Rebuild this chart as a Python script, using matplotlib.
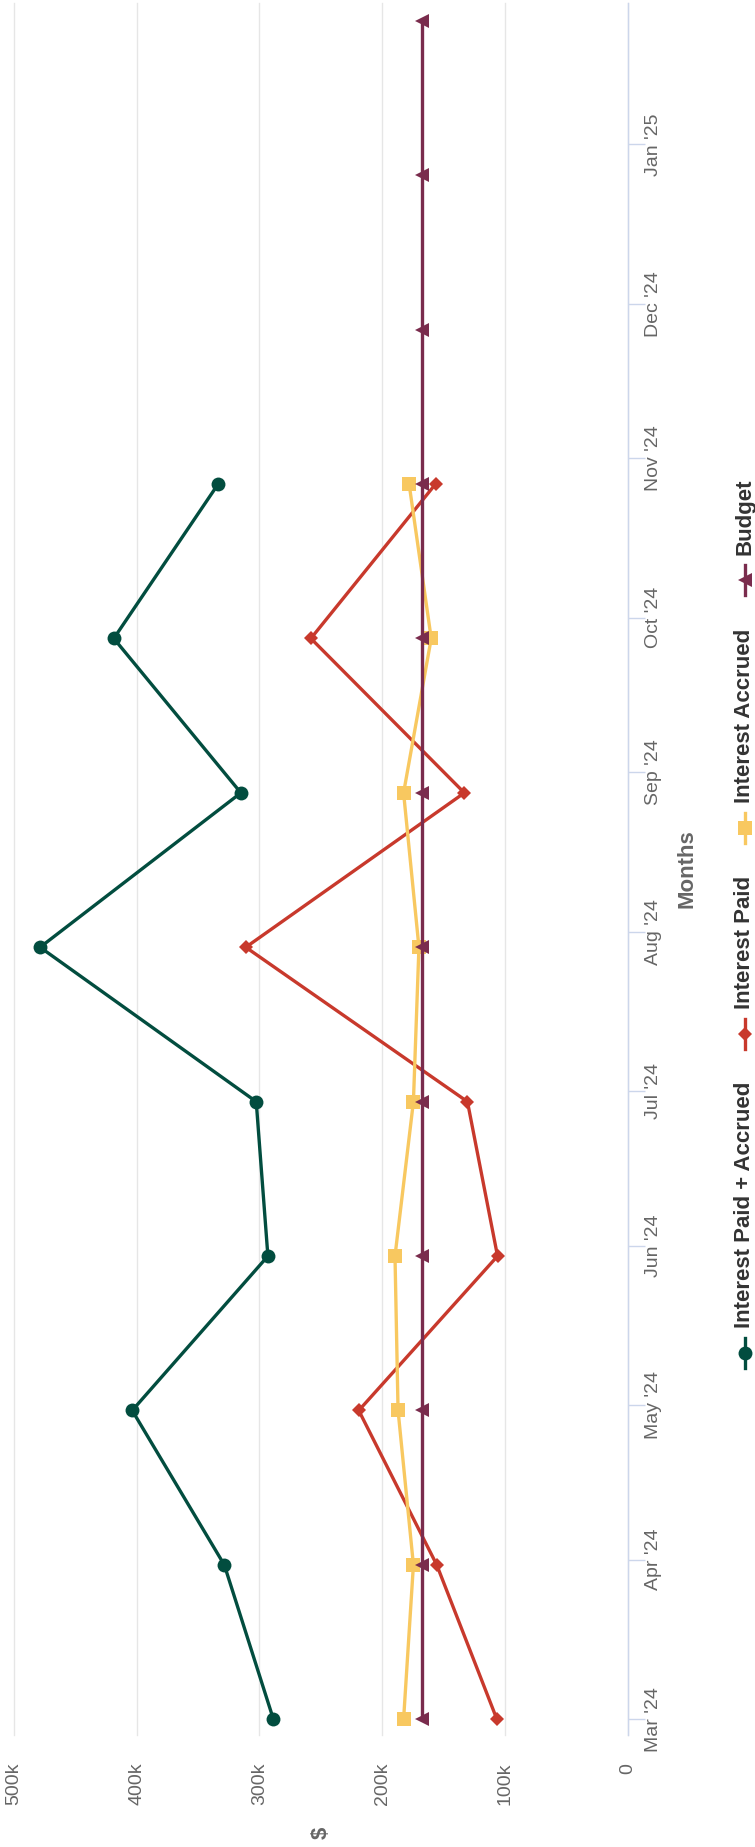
import datetime as dt

import matplotlib
matplotlib.use("Agg")
import matplotlib.pyplot as plt
import matplotlib.dates as mdates
from matplotlib.lines import Line2D
from matplotlib.ticker import FuncFormatter, MultipleLocator

plt.rcParams['font.family'] = ['Liberation Sans', 'DejaVu Sans']

# points are 30 days apart starting 1 Mar 2024
dates = ["2024-03-01", "2024-03-31", "2024-04-30", "2024-05-30", "2024-06-29",
         "2024-07-29", "2024-08-28", "2024-09-27", "2024-10-27", "2024-11-26",
         "2024-12-26", "2025-01-25"]

# values in $
paid_accrued = [288500, 328500, 403500, 293000, 302500, 478500, 315000, 418500, 333500]
interest_paid = [106500, 155500, 219000, 106000, 130500, 311000, 133000, 258000, 156500]
interest_accrued = [182500, 174500, 187000, 189500, 174500, 170000, 182500, 160000, 178000]
budget = [167500, 167500, 167500, 167500, 167500, 167500,
          167500, 167500, 167500, 167500, 167500, 167500]

series = [
    ("Interest Paid + Accrued", paid_accrued, "#024d3f", "o", 10),
    ("Interest Paid", interest_paid, "#c8392c", "D", 7.2),
    ("Interest Accrued", interest_accrued, "#f8c860", "s", 10),
    ("Budget", budget, "#7a2c4d", "<", 10),
]

W, H = 755, 1847
fig = plt.figure(figsize=(W / 100, H / 100), dpi=100)
ax = fig.add_axes([13.7 / W, 1 - 1735 / H, (627.7 - 13.7) / W, (1735 - 3.3) / H])

ydates = mdates.date2num([dt.date.fromisoformat(d) for d in dates])
for name, vals, color, marker, ms in series:
    ax.plot(vals, ydates[:len(vals)], color=color, lw=2.4, marker=marker,
            ms=ms, mew=0, solid_joinstyle='round')

# value axis runs right to left, chart is turned on its side
ax.set_xlim(500000, 0)
start = mdates.date2num(dt.date(2024, 3, 1))
ax.set_ylim(start - 3.05, start + 333.4)

ax.xaxis.set_major_locator(MultipleLocator(100000))
ax.xaxis.set_major_formatter(FuncFormatter(lambda v, p: "0" if v == 0 else f"{v / 1000:.0f}k"))
ax.yaxis.set_major_locator(mdates.MonthLocator())
ax.yaxis.set_major_formatter(mdates.DateFormatter("%b '%y"))
ax.yaxis.tick_right()

ax.grid(axis='x', color='#e6e6e6', lw=1.0)
ax.set_axisbelow(True)
for gl in ax.get_xgridlines():
    gl.set_clip_on(False)
for side in ['left', 'top', 'bottom']:
    ax.spines[side].set_visible(False)
ax.spines['right'].set_color('#ccd6eb')
ax.spines['right'].set_linewidth(1.0)

ax.tick_params(axis='x', length=0, pad=20, labelsize=14, labelcolor='#666666')
ax.tick_params(axis='y', direction='out', length=12.2, width=1.0, color='#ccd6eb',
               pad=0, labelsize=14, labelcolor='#666666')
plt.setp(ax.get_xticklabels(), rotation=90, ha='center', va='top')
plt.setp(ax.yaxis.get_majorticklabels(), rotation=90, ha='left', va='center')

fig.text(321 / W, 1 - 1833 / H, "$", rotation=90, ha='center', va='center',
         fontsize=16, fontweight='bold', color='#666666')
fig.text(687 / W, 1 - 869 / H, "Months", rotation=90, ha='center', va='center',
         fontsize=16, fontweight='bold', color='#666666')

# legend, laid out by hand as a vertical column
fig.canvas.draw()
renderer = fig.canvas.get_renderer()
leg_x = 745
sym_len, sym_gap, item_gap = 30, 10, 33
labels = []
for name, vals, color, marker, ms in series:
    t = fig.text(leg_x / W, 0, name, rotation=90, ha='center', va='bottom',
                 fontsize=16, fontweight='bold', color='#333333')
    labels.append((t, t.get_window_extent(renderer).height))
total = sum(sym_len + sym_gap + h for _, h in labels) + item_gap * (len(labels) - 1)
y0 = H / 2 + total / 2
for (t, h), (name, vals, color, marker, ms) in zip(labels, series):
    fig.add_artist(Line2D([leg_x / W, leg_x / W], [1 - y0 / H, 1 - (y0 - sym_len) / H],
                          color=color, lw=2.4))
    fig.add_artist(Line2D([leg_x / W], [1 - (y0 - sym_len / 2) / H], color=color,
                          marker=marker, ms=ms, mew=0, lw=0))
    t.set_y(1 - (y0 - sym_len - sym_gap) / H)
    y0 = y0 - sym_len - sym_gap - h - item_gap

fig.savefig("out.png", dpi=100)
